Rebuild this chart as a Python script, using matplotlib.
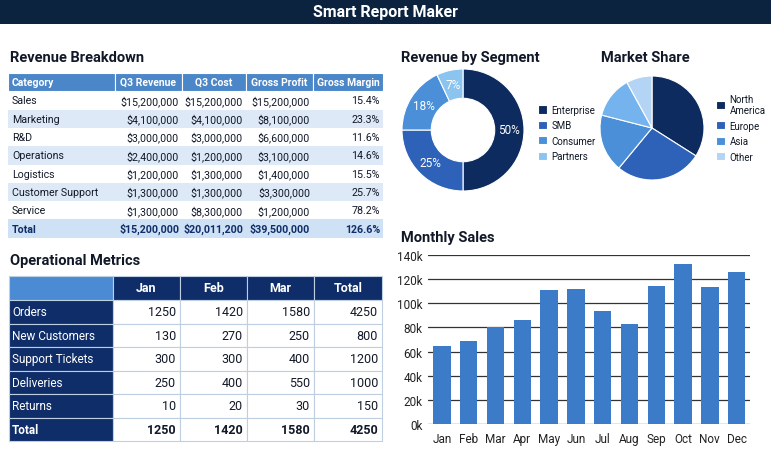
import matplotlib
matplotlib.use("Agg")
import matplotlib.pyplot as plt
from matplotlib.patches import Rectangle
from matplotlib.ticker import FuncFormatter

plt.rcParams['font.family'] = ['Roboto', 'DejaVu Sans']

# --- data -----------------------------------------------------------------
rev_columns = ['Category', 'Q3 Revenue', 'Q3 Cost', 'Gross Profit', 'Gross Margin']
rev_categories = ['Sales', 'Marketing', 'R&D', 'Operations', 'Logistics',
                  'Customer Support', 'Service']
q3_revenue = [15200000, 4100000, 3000000, 2400000, 1200000, 1300000, 1300000]
q3_cost = [15200000, 4100000, 3000000, 1200000, 1300000, 1300000, 8300000]
gross_profit = [15200000, 8100000, 6600000, 3100000, 1400000, 3300000, 1200000]
gross_margin = [15.4, 23.3, 11.6, 14.6, 15.5, 25.7, 78.2]
rev_total = [15200000, 20011200, 39500000, 126.6]

op_columns = ['Jan', 'Feb', 'Mar', 'Total']
op_rows = ['Orders', 'New Customers', 'Support Tickets', 'Deliveries', 'Returns']
op_values = [
    [1250, 1420, 1580, 4250],
    [130, 270, 250, 800],
    [300, 300, 400, 1200],
    [250, 400, 550, 1000],
    [10, 20, 30, 150],
]
op_total = [1250, 1420, 1580, 4250]

segments = ['Enterprise', 'SMB', 'Consumer', 'Partners']
segment_share = [50, 25, 18, 7]

market_regions = ['North\nAmerica', 'Europe', 'Asia', 'Other']
market_share = [34, 27, 18, 13, 8]   # five slices, four legend entries

months = ['Jan', 'Feb', 'Mar', 'Apr', 'May', 'Jun',
          'Jul', 'Aug', 'Sep', 'Oct', 'Nov', 'Dec']
monthly_sales = [65000, 69000, 80000, 86500, 111000, 111500,
                 93500, 83000, 114500, 132500, 113500, 126000]

# --- styling --------------------------------------------------------------
W, H = 771, 460
NAVY = '#0c2340'
DARK = '#0f2d69'
HEAD_BLUE = '#4a86c8'
ALT_ROW = '#dde9f6'
TOTAL_ROW = '#cfe1f4'
TEXT = '#111827'
BLUES = ['#0d2b5e', '#2d62b8', '#4a8fd8', '#8cc4f0']
MARKET_BLUES = ['#0d2b5e', '#2d62b8', '#4a8fd8', '#74b3ee', '#b3d4f4']
BAR_BLUE = '#3b7bc8'


def px_box(x0, y0, x1, y1):
    return [x0 / W, 1 - y1 / H, (x1 - x0) / W, (y1 - y0) / H]


def money(v):
    return f"${v:,.0f}"


fig = plt.figure(figsize=(W / 100, H / 100), dpi=100)
base = fig.add_axes([0, 0, 1, 1])
base.set_xlim(0, W)
base.set_ylim(H, 0)
base.axis('off')

# title bar
base.add_patch(Rectangle((0, 0), W, 25, facecolor=NAVY, edgecolor='none'))
base.text(W / 2, 12.5, 'Smart Report Maker', color='white', fontsize=11.5,
          fontweight='bold', ha='center', va='center')

# --- revenue breakdown table ----------------------------------------------
base.text(10, 58, 'Revenue Breakdown', fontsize=10.5, fontweight='bold',
          color=TEXT, va='center')
col_x = [8, 115, 182, 246, 313, 383]
top, rh = 74, 18.3
for j, name in enumerate(rev_columns):
    base.add_patch(Rectangle((col_x[j], top), col_x[j + 1] - col_x[j], rh,
                             facecolor=HEAD_BLUE, edgecolor='white', lw=0.8))
    if j == 0:
        base.text(col_x[j] + 4, top + rh / 2, name, color='white', fontsize=7.5,
                  fontweight='bold', ha='left', va='center')
    else:
        base.text((col_x[j] + col_x[j + 1]) / 2, top + rh / 2, name, color='white',
                  fontsize=7.5, fontweight='bold', ha='center', va='center')

rev_rows = []
for i, cat in enumerate(rev_categories):
    rev_rows.append([cat, money(q3_revenue[i]), money(q3_cost[i]),
                     money(gross_profit[i]), f"{gross_margin[i]:.1f}%"])
rev_rows.append(['Total', money(rev_total[0]), money(rev_total[1]),
                 money(rev_total[2]), f"{rev_total[3]:.1f}%"])

for i, row in enumerate(rev_rows):
    y = top + rh * (i + 1)
    is_total = i == len(rev_rows) - 1
    bg = TOTAL_ROW if is_total else (ALT_ROW if i % 2 == 1 else 'white')
    base.add_patch(Rectangle((col_x[0], y), col_x[-1] - col_x[0], rh,
                             facecolor=bg, edgecolor='none'))
    for j, val in enumerate(row):
        kw = dict(fontsize=7.7, va='center',
                  color=DARK if is_total else TEXT,
                  fontweight='bold' if is_total else 'normal')
        if j == 0:
            base.text(col_x[j] + 4, y + rh / 2, val, ha='left', **kw)
        else:
            base.text(col_x[j + 1] - 3, y + rh / 2, val, ha='right', **kw)

# --- operational metrics table --------------------------------------------
base.text(10, 261, 'Operational Metrics', fontsize=10.5, fontweight='bold',
          color=TEXT, va='center')
ocol_x = [9, 113, 180, 247, 314, 382]
otop, ohead, orh = 277, 24, 23.5
grid_c = '#bfcfe2'
base.add_patch(Rectangle((ocol_x[0], otop), ocol_x[1] - ocol_x[0], ohead,
                         facecolor='#4b8bd3', edgecolor=grid_c, lw=0.8))
for j, name in enumerate(op_columns):
    x0 = ocol_x[j + 1]
    base.add_patch(Rectangle((x0, otop), ocol_x[j + 2] - x0, ohead,
                             facecolor=DARK, edgecolor=grid_c, lw=0.8))
    base.text((x0 + ocol_x[j + 2]) / 2, otop + ohead / 2, name, color='white',
              fontsize=9, fontweight='bold', ha='center', va='center')

for i, (label, vals) in enumerate(zip(op_rows + ['Total'], op_values + [op_total])):
    y = otop + ohead + orh * i
    bold = 'bold' if label == 'Total' else 'normal'
    base.add_patch(Rectangle((ocol_x[0], y), ocol_x[1] - ocol_x[0], orh,
                             facecolor=DARK, edgecolor=grid_c, lw=0.8))
    base.text(ocol_x[0] + 3, y + orh / 2, label, color='white', fontsize=8.5,
              fontweight=bold, ha='left', va='center')
    for j, v in enumerate(vals):
        x0 = ocol_x[j + 1]
        base.add_patch(Rectangle((x0, y), ocol_x[j + 2] - x0, orh,
                                 facecolor='white', edgecolor=grid_c, lw=0.8))
        base.text(ocol_x[j + 2] - 4, y + orh / 2, str(v), color=TEXT,
                  fontsize=9, fontweight=bold, ha='right', va='center')

# --- revenue by segment donut ---------------------------------------------
base.text(401, 58, 'Revenue by Segment', fontsize=10.5, fontweight='bold',
          color=TEXT, va='center')
r1 = 61
ax_d = fig.add_axes(px_box(463 - r1, 131 - r1, 463 + r1, 131 + r1))
wedges_d, texts_d = ax_d.pie(segment_share, colors=BLUES, startangle=90,
                             counterclock=False, radius=1,
                             labels=[f"{s}%" for s in segment_share],
                             labeldistance=0.76,
                             wedgeprops=dict(width=0.48, edgecolor='white', lw=0.8),
                             textprops=dict(color='white', fontsize=8.5,
                                            ha='center', va='center'))
ax_d.set_xlim(-1, 1)
ax_d.set_ylim(-1, 1)
ax_d.set_aspect('equal')
fig.legend(wedges_d, segments, loc='upper left',
           bbox_to_anchor=(533 / W, 1 - 101 / H), frameon=False, fontsize=7,
           handlelength=0.9, handleheight=0.9, handletextpad=0.5,
           labelspacing=0.55, borderpad=0, labelcolor=TEXT)

# --- market share pie -----------------------------------------------------
base.text(601, 58, 'Market Share', fontsize=10.5, fontweight='bold',
          color=TEXT, va='center')
r2 = 52
ax_p = fig.add_axes(px_box(652 - r2, 129 - r2, 652 + r2, 129 + r2))
wedges_p, _ = ax_p.pie(market_share, colors=MARKET_BLUES, startangle=90,
                       counterclock=False, radius=1,
                       wedgeprops=dict(edgecolor='white', lw=0.8))
ax_p.set_xlim(-1, 1)
ax_p.set_ylim(-1, 1)
ax_p.set_aspect('equal')
legend_wedges = [wedges_p[0], wedges_p[1], wedges_p[2], wedges_p[4]]
fig.legend(legend_wedges, market_regions, loc='upper left',
           bbox_to_anchor=(711 / W, 1 - 90 / H), frameon=False, fontsize=7,
           handlelength=0.9, handleheight=0.9, handletextpad=0.5,
           labelspacing=0.55, borderpad=0, labelcolor=TEXT)

# --- monthly sales bars ---------------------------------------------------
base.text(401, 238, 'Monthly Sales', fontsize=10.5, fontweight='bold',
          color=TEXT, va='center')
ax_b = fig.add_axes(px_box(428, 256, 750, 425))
ax_b.bar(range(len(months)), monthly_sales, width=0.65, color=BAR_BLUE, zorder=2)
ax_b.set_xlim(-0.52, 11.5)
ax_b.set_ylim(0, 140000)
ax_b.set_yticks(range(0, 140001, 20000))
ax_b.yaxis.set_major_formatter(FuncFormatter(lambda v, _: f"{int(v / 1000)}k"))
ax_b.set_xticks(range(len(months)))
ax_b.set_xticklabels(months)
ax_b.grid(axis='y', color='#333333', lw=0.9, zorder=0)
ax_b.set_axisbelow(True)
for s in ax_b.spines.values():
    s.set_visible(False)
ax_b.tick_params(axis='both', length=0, labelsize=8.5, colors='#222222')
ax_b.tick_params(axis='y', pad=4)
ax_b.tick_params(axis='x', pad=6)
ax_b.set_facecolor('none')

fig.savefig('out.png', dpi=100)
